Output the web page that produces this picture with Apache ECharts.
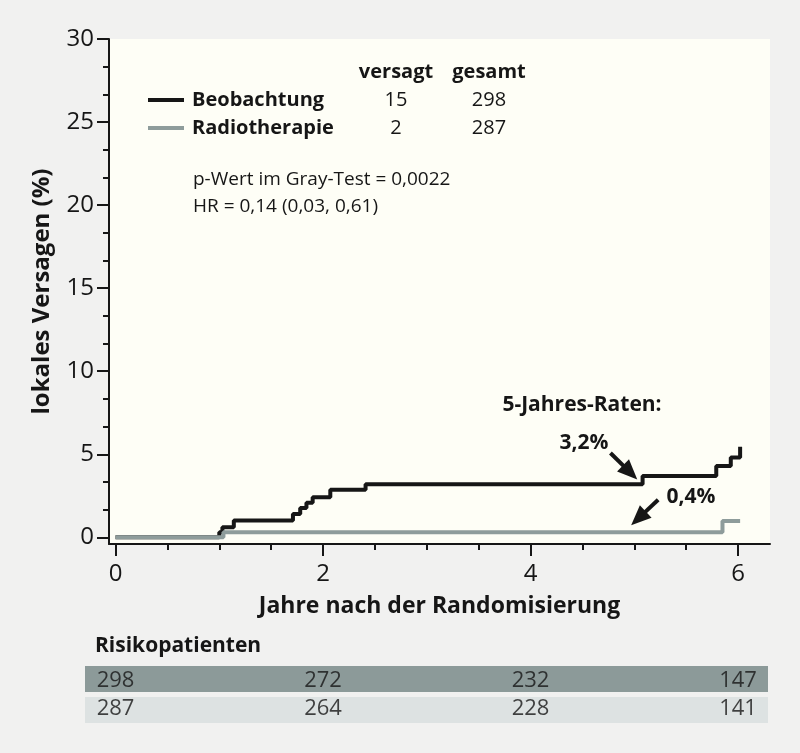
<!DOCTYPE html>
<html>
<head>
<meta charset="utf-8">
<script src="https://cdn.jsdelivr.net/npm/echarts@6/dist/echarts.min.js"></script>
<style>
  html, body { margin: 0; padding: 0; background: #f1f1f0; }
  #main { width: 800px; height: 753px; }
</style>
</head>
<body>
<div id="main"></div>
<script>
// Beobachtung (step points: jahre, prozent)
const obsYears = [0, 1.0, 1.03, 1.14, 1.71, 1.78, 1.84, 1.9, 2.07, 2.41, 5.08, 5.79, 5.93, 6.02]
const obsRate = [0, 0.31, 0.61, 1.01, 1.41, 1.76, 2.09, 2.42, 2.86, 3.2, 3.7, 4.3, 4.8, 5.46]
// Radiotherapie
const rtYears = [0, 1.04, 5.85, 6.02]
const rtRate = [0, 0.31, 0.99, 0.99]

const groups = ['Beobachtung', 'Radiotherapie']
const failed = [15, 2]
const total = [298, 287]

const riskYears = [0, 2, 4, 6]
const riskObs = [298, 272, 232, 147]
const riskRt = [287, 264, 228, 141]

const xTicks = [0, 2, 4, 6]
const yTicks = [0, 5, 10, 15, 20, 25, 30]

const xMinor = []
for (let v = 0.5; v < 6.1; v += 0.5) if (v % 2 !== 0) xMinor.push(v)
const yMinor = []
for (let i = 1; i < 18; i++) if (i % 3 !== 0) yMinor.push(i * 5 / 3)

const ink = '#161616'
const grey = '#8e9c9b'
const font = '"Open Sans", "Noto Sans", sans-serif'

const xMin = -0.063
const xMax = 6.308

function pairs(xs, ys) {
  return xs.map((x, i) => [x, ys[i]])
}

const riskData = []
riskYears.forEach((y, i) => {
  riskData.push([y, 0, riskObs[i]])
  riskData.push([y, 1, riskRt[i]])
})

const chart = echarts.init(document.getElementById('main'))

const graphic = [
  { type: 'rect', shape: { x: 85, y: 666, width: 683, height: 26 }, style: { fill: '#8c9a99' }, z: 0 },
  { type: 'rect', shape: { x: 85, y: 697, width: 683, height: 26 }, style: { fill: '#dde2e2' }, z: 0 },
  { type: 'text', x: 95, y: 646, style: { text: 'Risikopatienten', font: 'bold 21px ' + font, fill: ink, textVerticalAlign: 'middle' } },
  { type: 'text', x: 396, y: 72, style: { text: 'versagt', font: 'bold 20px ' + font, fill: ink, textAlign: 'center', textVerticalAlign: 'middle' } },
  { type: 'text', x: 489, y: 72, style: { text: 'gesamt', font: 'bold 20px ' + font, fill: ink, textAlign: 'center', textVerticalAlign: 'middle' } },
  { type: 'text', x: 193, y: 180, style: { text: 'p-Wert im Gray-Test = 0,0022', font: '19px ' + font, fill: ink, textVerticalAlign: 'middle' } },
  { type: 'text', x: 193, y: 207, style: { text: 'HR = 0,14 (0,03, 0,61)', font: '19px ' + font, fill: ink, textVerticalAlign: 'middle' } },
  { type: 'text', x: 582, y: 405, style: { text: '5-Jahres-Raten:', font: 'bold 21px ' + font, fill: ink, textAlign: 'center', textVerticalAlign: 'middle' } },
  { type: 'text', x: 584, y: 443, style: { text: '3,2%', font: 'bold 21px ' + font, fill: ink, textAlign: 'center', textVerticalAlign: 'middle' } },
  { type: 'text', x: 691, y: 497, style: { text: '0,4%', font: 'bold 21px ' + font, fill: ink, textAlign: 'center', textVerticalAlign: 'middle' } }
]
groups.forEach((g, i) => {
  const y = 100 + i * 28
  graphic.push({ type: 'text', x: 396, y: y, style: { text: String(failed[i]), font: '20px ' + font, fill: ink, textAlign: 'center', textVerticalAlign: 'middle' } })
  graphic.push({ type: 'text', x: 489, y: y, style: { text: String(total[i]), font: '20px ' + font, fill: ink, textAlign: 'center', textVerticalAlign: 'middle' } })
})

const option = {
  backgroundColor: '#f1f1f0',
  animation: false,
  textStyle: { fontFamily: font },
  grid: [
    { left: 109, top: 39, width: 661, height: 505, show: true, backgroundColor: '#fefef6', borderWidth: 0 },
    { left: 109, top: 666, width: 661, height: 57 }
  ],
  legend: {
    data: groups,
    orient: 'vertical',
    left: 148,
    top: 86,
    padding: 0,
    itemGap: 0,
    itemWidth: 36,
    itemHeight: 4,
    icon: 'rect',
    selectedMode: false,
    textStyle: { fontFamily: font, fontWeight: 'bold', fontSize: 20, color: ink, lineHeight: 28, padding: [0, 0, 0, 3] }
  },
  xAxis: [
    {
      type: 'value', gridIndex: 0, min: xMin, max: xMax,
      name: 'Jahre nach der Randomisierung', nameLocation: 'middle', nameGap: 51,
      nameTextStyle: { fontFamily: font, fontWeight: 'bold', fontSize: 23, color: ink },
      axisLine: { onZero: false, lineStyle: { color: ink, width: 2 } },
      axisTick: { customValues: xTicks, length: 12, lineStyle: { color: ink, width: 2 } },
      axisLabel: { customValues: xTicks, fontSize: 24, color: ink, margin: 18 },
      splitLine: { show: false }
    },
    {
      type: 'value', gridIndex: 0, min: xMin, max: xMax, position: 'bottom',
      axisLine: { show: false, onZero: false },
      axisTick: { customValues: xMinor, length: 6, lineStyle: { color: ink, width: 2 } },
      axisLabel: { show: false },
      splitLine: { show: false }
    },
    {
      type: 'value', gridIndex: 1, min: xMin, max: xMax, show: false
    }
  ],
  yAxis: [
    {
      type: 'value', gridIndex: 0, min: -0.4, max: 30,
      name: 'lokales Versagen (%)', nameLocation: 'middle', nameGap: 55,
      nameTextStyle: { fontFamily: font, fontWeight: 'bold', fontSize: 24, color: ink },
      axisLine: { show: true, onZero: false, lineStyle: { color: ink, width: 2 } },
      axisTick: { show: true, customValues: yTicks, length: 12, lineStyle: { color: ink, width: 2 } },
      axisLabel: { customValues: yTicks, fontSize: 24, color: ink, margin: 15 },
      splitLine: { show: false }
    },
    {
      type: 'value', gridIndex: 0, min: -0.4, max: 30, position: 'left',
      axisLine: { show: false, onZero: false },
      axisTick: { show: true, customValues: yMinor, length: 6, lineStyle: { color: ink, width: 2 } },
      axisLabel: { show: false },
      splitLine: { show: false }
    },
    {
      type: 'category', gridIndex: 1, data: groups, inverse: true, show: false
    }
  ],
  series: [
    {
      name: 'Beobachtung',
      type: 'line',
      step: 'end',
      symbol: 'none',
      xAxisIndex: 0, yAxisIndex: 0,
      data: pairs(obsYears, obsRate),
      lineStyle: { color: ink, width: 4 },
      itemStyle: { color: ink },
      z: 3,
      markLine: {
        silent: true,
        symbol: ['none', 'triangle'],
        symbolSize: [17, 20],
        label: { show: false },
        itemStyle: { color: ink },
        lineStyle: { color: ink, width: 4, type: 'solid' },
        data: [
          [{ coord: [4.77, 5.08] }, { coord: [4.96, 3.91] }],
          [{ coord: [5.23, 2.26] }, { coord: [5.04, 1.14] }]
        ]
      }
    },
    {
      name: 'Radiotherapie',
      type: 'line',
      step: 'end',
      symbol: 'none',
      xAxisIndex: 0, yAxisIndex: 0,
      data: pairs(rtYears, rtRate),
      lineStyle: { color: grey, width: 4 },
      itemStyle: { color: grey },
      z: 4
    },
    {
      name: 'risk',
      type: 'scatter',
      xAxisIndex: 2, yAxisIndex: 2,
      symbolSize: 1,
      itemStyle: { color: 'transparent' },
      silent: true,
      data: riskData,
      label: {
        show: true,
        position: 'inside',
        formatter: p => String(p.value[2]),
        fontFamily: font,
        fontSize: 22,
        color: ink
      }
    }
  ],
  graphic: graphic
}

chart.setOption(option)
</script>
</body>
</html>
